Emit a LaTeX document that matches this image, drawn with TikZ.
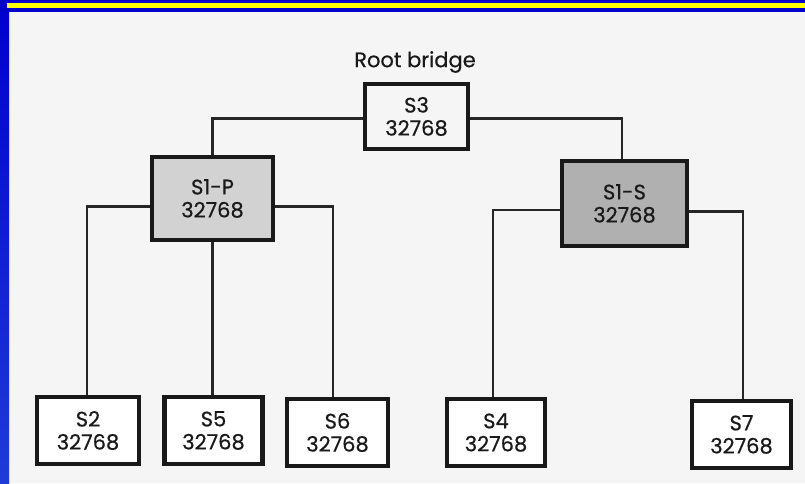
\documentclass[tikz,border=0pt]{standalone}
\usepackage{fontspec}
\setmainfont{Poppins}
\newfontfamily\swfont{Poppins}[FakeBold=0.6]
\definecolor{frameblue}{RGB}{0,0,205}
\definecolor{frameblue2}{RGB}{30,60,215}
\definecolor{bandyellow}{RGB}{255,255,0}
\begin{document}
\begin{tikzpicture}[x=1pt,y=-1pt,
  sw/.style={draw=black!90, line width=4.5pt, align=center, inner sep=0pt,
    font=\swfont\fontsize{21}{23}\selectfont, text=black!90},
  lnk/.style={draw=black!85, line width=2.3pt}]
\useasboundingbox (0,0) rectangle (805,483);
% background
\fill[gray!8] (0,0) rectangle (805,483);
% blue frame
\shade[top color=frameblue, bottom color=frameblue2] (0,0) rectangle (9,483);
\fill[frameblue] (0,0) rectangle (805,12);
\fill[bandyellow] (7,3) rectangle (805,8);
% label
\node[font=\swfont\fontsize{21}{23}\selectfont, text=black!90] (rb) at (415,62) {Root bridge};
% boxes
\node[sw, minimum width=103pt, minimum height=65pt] (S3) at (416.5,116.5) {S3\\32768};
\node[sw, fill=gray!35, minimum width=121pt, minimum height=83pt] (S1P) at (212.5,198.5) {S1-P\\32768};
\node[sw, fill=gray!62, minimum width=125pt, minimum height=85pt] (S1S) at (624.5,203.5) {S1-S\\32768};
\node[sw, fill=white, minimum width=102pt, minimum height=67pt] (S2) at (88,430.5) {S2\\32768};
\node[sw, fill=white, minimum width=98pt, minimum height=67pt] (S5) at (213.5,430.5) {S5\\32768};
\node[sw, fill=white, minimum width=101pt, minimum height=67pt] (S6) at (337.5,432.5) {S6\\32768};
\node[sw, fill=white, minimum width=98pt, minimum height=67pt] (S4) at (496,432.5) {S4\\32768};
\node[sw, fill=white, minimum width=99pt, minimum height=67pt] (S7) at (741.5,434.5) {S7\\32768};
% connectors
\draw[lnk] ([yshift=-2pt]S3.west) -| (S1P.north);
\draw[lnk] ([yshift=-2pt]S3.east) -| ([xshift=-2.5pt]S1S.north);
\draw[lnk] ([yshift=-8pt]S1P.west) -| ([xshift=-1pt]S2.north);
\draw[lnk] (S1P.south) -- (S1P.south |- S5.north);
\draw[lnk] ([yshift=-8pt]S1P.east) -| ([xshift=-4.5pt]S6.north);
\draw[lnk] ([yshift=-6.5pt]S1S.west) -| ([xshift=-3pt]S4.north);
\draw[lnk] ([yshift=-8pt]S1S.east) -| ([xshift=1.5pt]S7.north);
\end{tikzpicture}
\end{document}
